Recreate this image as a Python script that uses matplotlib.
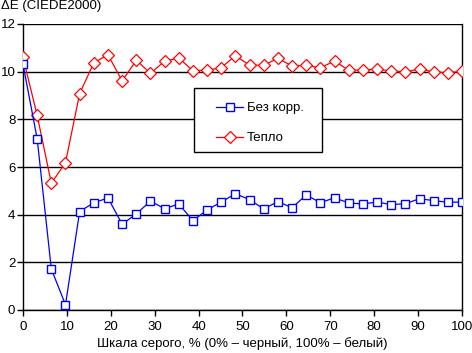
import matplotlib
matplotlib.use("Agg")
import matplotlib.pyplot as plt
from matplotlib.patches import Rectangle

plt.rcParams['font.family'] = ['Liberation Sans', 'DejaVu Sans']

x_vals = [i * 100 / 31 for i in range(32)]
blue_vals = [10.31, 7.19, 1.72, 0.22, 4.13, 4.50, 4.70, 3.60, 4.03, 4.57, 4.25, 4.45,
             3.75, 4.20, 4.53, 4.88, 4.63, 4.24, 4.55, 4.29, 4.83, 4.50, 4.71, 4.49,
             4.45, 4.53, 4.42, 4.46, 4.67, 4.59, 4.52, 4.53]
red_vals = [10.60, 8.17, 5.32, 6.18, 9.08, 10.37, 10.71, 9.61, 10.48, 9.93, 10.44, 10.57,
            10.04, 10.06, 10.17, 10.67, 10.27, 10.27, 10.56, 10.24, 10.27, 10.16, 10.45, 10.06,
            10.07, 10.10, 10.03, 9.99, 10.11, 9.99, 9.95, 10.02]
series_names = ["Без корр.", "Тепло"]
x_ticks = [0, 10, 20, 30, 40, 50, 60, 70, 80, 90, 100]
y_ticks = [0, 2, 4, 6, 8, 10, 12]

W, H = 472, 353
FS = 9.5
fig = plt.figure(figsize=(W/100, H/100), dpi=100)
ax = fig.add_axes([23/W, 43/H, 439/W, 286/H])

ax.plot(x_vals, red_vals, color='#ff0000', lw=0.9, marker='D', ms=6.0,
        mfc='white', mec='#ff0000', mew=0.9, label=series_names[1], zorder=3)
ax.plot(x_vals, blue_vals, color='#0000ff', lw=0.9, marker='s', ms=5.2,
        mfc='white', mec='#0000ff', mew=1.0, label=series_names[0], zorder=4)

ax.set_xlim(0, 100)
ax.set_ylim(0, 12)
ax.set_xticks(x_ticks)
ax.set_yticks(y_ticks)
ax.yaxis.grid(True, color='black', lw=1.0)
ax.set_axisbelow(True)
for s in ['left', 'bottom', 'right']:
    ax.spines[s].set_color('black')
    ax.spines[s].set_linewidth(1.0)
ax.spines['top'].set_visible(False)
ax.tick_params(axis='x', direction='out', length=4, width=1, labelsize=FS, pad=4)
ax.tick_params(axis='y', direction='out', length=4, width=1, labelsize=FS, pad=1.5)

ax.set_xlabel("Шкала серого, % (0% – черный, 100% – белый)", fontsize=FS, labelpad=3)
fig.text(1/W, 1 - 6/H, "ΔE (CIEDE2000)", fontsize=FS, va='center', ha='left')

# legend frame
fig.patches.append(Rectangle((194/W, 1 - 152/H), 128/W, 64/H, transform=fig.transFigure,
                             facecolor='white', edgecolor='black', lw=1.0, zorder=5))
handles, labels = ax.get_legend_handles_labels()
leg = fig.legend(handles[::-1], labels[::-1], loc='upper left',
                 bbox_to_anchor=(216/W, 1 - 102/H), bbox_transform=fig.transFigure,
                 fontsize=FS, frameon=False, borderpad=0, borderaxespad=0,
                 labelspacing=1.35, handlelength=2.05, handletextpad=0.3)
leg.set_zorder(6)

fig.savefig("out.png", dpi=100)
